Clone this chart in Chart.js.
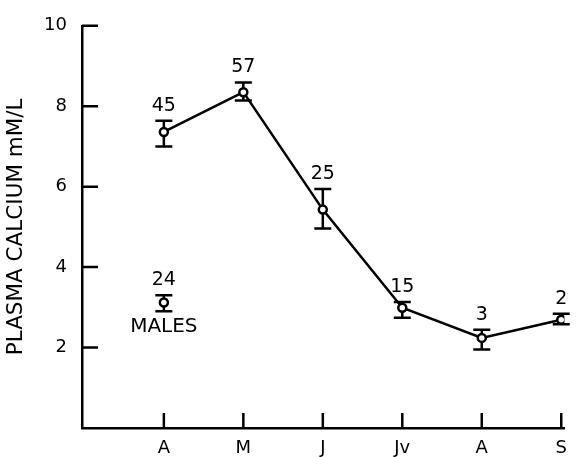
<!DOCTYPE html>
<html>
<head>
<meta charset="utf-8">
<script src="https://cdn.jsdelivr.net/npm/chart.js@4/dist/chart.umd.min.js"></script>
<style>
  html, body { margin: 0; padding: 0; background: #fff; }
  #wrap { width: 577px; height: 457px; }
</style>
</head>
<body>
<div id="wrap"><canvas id="calcium"></canvas></div>
<script>
// months along the bottom, and plasma calcium (mM/L) with error bars
const months = ["A", "M", "J", "Jv", "A", "S"];
const calcium = [7.36, 8.35, 5.43, 2.99, 2.24, 2.69];
const errHigh = [7.64, 8.59, 5.94, 3.13, 2.44, 2.84];
const errLow = [7.0, 8.14, 4.96, 2.74, 1.95, 2.58];
const sampleN = [45, 57, 25, 15, 3, 2];

// males, measured in the first month
const malesMonth = [0];
const malesCalcium = [3.12];
const malesHigh = [3.30];
const malesLow = [2.90];
const malesN = [24];

const yTicks = [2, 4, 6, 8, 10];

const FONT = "'DejaVu Sans', sans-serif";
const INK = "#000";

// error bars + sample sizes, drawn from the scales
const errorBars = {
  id: "errorBars",
  beforeDatasetsDraw(chart) {
    const ctx = chart.ctx;
    const xs = chart.scales.x, ys = chart.scales.y;
    const draw = (xv, hi, lo) => {
      const x = xs.getPixelForValue(xv);
      const t = ys.getPixelForValue(hi), b = ys.getPixelForValue(lo);
      ctx.beginPath();
      ctx.moveTo(x, t); ctx.lineTo(x, b);
      ctx.moveTo(x - 8.5, t); ctx.lineTo(x + 8.5, t);
      ctx.moveTo(x - 8.5, b); ctx.lineTo(x + 8.5, b);
      ctx.stroke();
    };
    ctx.save();
    ctx.strokeStyle = INK;
    ctx.lineWidth = 2.5;
    months.forEach((m, i) => draw(i, errHigh[i], errLow[i]));
    malesMonth.forEach((m, i) => draw(m, malesHigh[i], malesLow[i]));
    ctx.restore();
  },
  afterDraw(chart) {
    const ctx = chart.ctx;
    const xs = chart.scales.x, ys = chart.scales.y;
    ctx.save();
    ctx.fillStyle = INK;
    ctx.textAlign = "center";
    ctx.textBaseline = "middle";
    ctx.font = "19px " + FONT;
    sampleN.forEach((n, i) => {
      ctx.fillText(String(n), xs.getPixelForValue(i), ys.getPixelForValue(errHigh[i]) - 15);
    });
    malesMonth.forEach((m, i) => {
      const x = xs.getPixelForValue(m);
      ctx.font = "19px " + FONT;
      ctx.fillText(String(malesN[i]), x, ys.getPixelForValue(malesHigh[i]) - 15);
      ctx.font = "20px " + FONT;
      ctx.fillText("MALES", x, ys.getPixelForValue(malesLow[i]) + 15);
    });

    // tick marks pointing into the plot
    ctx.strokeStyle = INK;
    ctx.lineWidth = 2.5;
    ctx.beginPath();
    yTicks.forEach(v => {
      const y = ys.getPixelForValue(v);
      ctx.moveTo(xs.left, y); ctx.lineTo(xs.left + 16, y);
    });
    months.forEach((m, i) => {
      const x = xs.getPixelForValue(i);
      ctx.moveTo(x, ys.bottom); ctx.lineTo(x, ys.bottom - 15);
    });
    ctx.stroke();
    ctx.restore();
  }
};

new Chart(document.getElementById("calcium"), {
  type: "scatter",
  data: {
    datasets: [
      {
        label: "Plasma calcium",
        data: calcium.map((v, i) => ({ x: i, y: v })),
        showLine: true,
        borderColor: INK,
        borderWidth: 2.5,
        pointRadius: 4,
        pointBorderWidth: 2.5,
        pointBackgroundColor: "#fff",
        pointBorderColor: INK,
        tension: 0
      },
      {
        label: "Males",
        data: malesCalcium.map((v, i) => ({ x: malesMonth[i], y: v })),
        showLine: false,
        pointRadius: 4,
        pointBorderWidth: 2.5,
        pointBackgroundColor: "#fff",
        pointBorderColor: INK
      }
    ]
  },
  options: {
    responsive: true,
    maintainAspectRatio: false,
    animation: false,
    layout: { padding: { top: 20, right: 5, left: 0, bottom: 0 } },
    plugins: { legend: { display: false }, tooltip: { enabled: false } },
    scales: {
      x: {
        type: "linear",
        min: -1.03,
        max: 5.04,
        afterBuildTicks: s => { s.ticks = months.map((m, i) => ({ value: i })); },
        afterFit: s => { s.height = 29; },
        grid: { display: false, drawTicks: false },
        border: { display: true, color: INK, width: 2.5 },
        ticks: {
          padding: 10,
          color: INK,
          font: { family: FONT, size: 18 },
          callback: v => months[v]
        }
      },
      y: {
        min: 0,
        max: 10,
        afterBuildTicks: s => { s.ticks = yTicks.map(v => ({ value: v })); },
        afterFit: s => { s.width = 82; },
        grid: { display: false, drawTicks: false },
        border: { display: true, color: INK, width: 2.5 },
        ticks: {
          padding: 15,
          color: INK,
          font: { family: FONT, size: 18 }
        },
        title: {
          display: true,
          text: "PLASMA CALCIUM mM/L",
          color: INK,
          font: { family: FONT, size: 21.5 },
          padding: { top: 4, bottom: 0 }
        }
      }
    }
  },
  plugins: [errorBars]
});
</script>
</body>
</html>
